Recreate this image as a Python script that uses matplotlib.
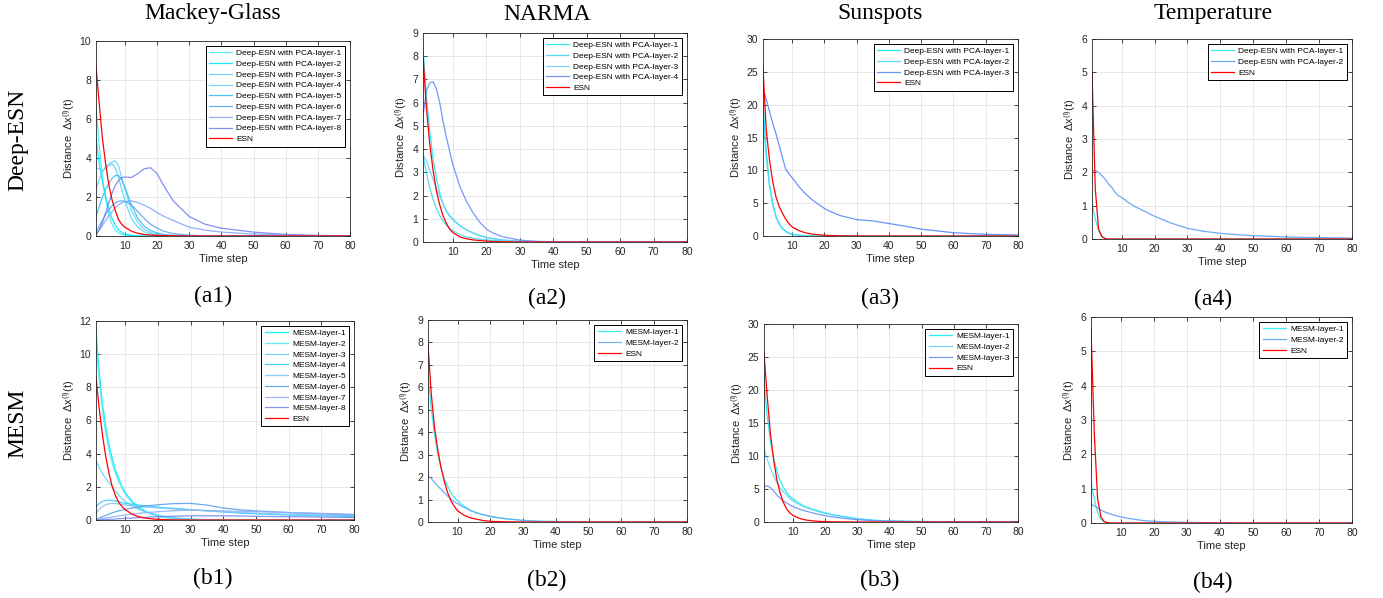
import matplotlib
matplotlib.use('Agg')
import matplotlib.pyplot as plt

plt.rcParams['font.family'] = ['Liberation Sans', 'DejaVu Sans']
plt.rcParams['mathtext.fontset'] = 'custom'
plt.rcParams['mathtext.rm'] = 'Liberation Sans'
plt.rcParams['mathtext.default'] = 'regular'

t = [1, 2, 3, 4, 5, 6, 7, 8, 9, 10, 12, 14, 16, 18, 20, 22, 25, 30, 35, 40, 45, 50, 60, 70, 80]

# ---- Deep-ESN with PCA ----
mg_deep = [
    [6.7, 4.6, 3.0, 1.9, 1.1, 0.6, 0.3, 0.15, 0.08, 0.04, 0.01, 0, 0, 0, 0, 0, 0, 0, 0, 0, 0, 0, 0, 0, 0],
    [5.0, 3.7, 2.8, 2.0, 1.4, 0.9, 0.55, 0.32, 0.18, 0.1, 0.03, 0.01, 0, 0, 0, 0, 0, 0, 0, 0, 0, 0, 0, 0, 0],
    [3.5, 3.45, 3.35, 3.45, 3.6, 3.7, 3.5, 3.0, 2.4, 1.8, 0.9, 0.45, 0.22, 0.1, 0.05, 0.02, 0.01, 0, 0, 0, 0, 0, 0, 0, 0],
    [2.4, 2.9, 3.3, 3.55, 3.7, 3.8, 3.85, 3.6, 3.0, 2.4, 1.3, 0.7, 0.35, 0.18, 0.09, 0.04, 0.01, 0, 0, 0, 0, 0, 0, 0, 0],
    [1.0, 1.5, 2.0, 2.4, 2.7, 2.95, 3.1, 3.1, 2.9, 2.5, 1.6, 0.9, 0.5, 0.28, 0.15, 0.08, 0.03, 0.01, 0, 0, 0, 0, 0, 0, 0],
    [0.2, 0.5, 0.8, 1.1, 1.35, 1.55, 1.7, 1.78, 1.8, 1.78, 1.6, 1.25, 0.9, 0.6, 0.4, 0.25, 0.12, 0.04, 0.01, 0, 0, 0, 0, 0, 0],
    [0.1, 0.3, 0.55, 0.8, 1.05, 1.25, 1.45, 1.6, 1.7, 1.77, 1.8, 1.72, 1.58, 1.42, 1.2, 1.02, 0.8, 0.45, 0.3, 0.2, 0.15, 0.1, 0.05, 0.02, 0.01],
    [0.05, 0.3, 0.7, 1.2, 1.7, 2.2, 2.6, 2.85, 3.0, 3.02, 3.0, 3.2, 3.45, 3.5, 3.2, 2.6, 1.8, 1.0, 0.6, 0.4, 0.3, 0.2, 0.08, 0.03, 0.01],
]
mg_deep_esn = [8.7, 6.8, 5.0, 3.7, 2.6, 1.85, 1.3, 0.85, 0.6, 0.45, 0.25, 0.14, 0.08, 0.05, 0.03, 0.02, 0.01, 0, 0, 0, 0, 0, 0, 0, 0]

narma_deep = [
    [8.4, 6.3, 4.8, 3.6, 2.75, 2.1, 1.65, 1.3, 1.1, 0.95, 0.7, 0.52, 0.38, 0.27, 0.2, 0.14, 0.08, 0.03, 0.01, 0, 0, 0, 0, 0, 0],
    [3.75, 3.0, 2.35, 1.85, 1.45, 1.15, 0.9, 0.72, 0.58, 0.48, 0.32, 0.22, 0.16, 0.12, 0.09, 0.07, 0.05, 0.02, 0.01, 0, 0, 0, 0, 0, 0],
    [3.75, 3.5, 3.1, 2.7, 2.3, 1.95, 1.65, 1.35, 1.15, 0.98, 0.72, 0.53, 0.39, 0.28, 0.2, 0.15, 0.09, 0.03, 0.01, 0, 0, 0, 0, 0, 0],
    [5.4, 6.5, 6.85, 6.9, 6.6, 6.0, 5.2, 4.5, 3.9, 3.3, 2.4, 1.75, 1.25, 0.85, 0.55, 0.38, 0.22, 0.08, 0.03, 0.01, 0, 0, 0, 0, 0],
]
narma_deep_esn = [8.0, 5.8, 4.25, 3.1, 2.2, 1.6, 1.13, 0.8, 0.55, 0.4, 0.22, 0.14, 0.09, 0.06, 0.04, 0.02, 0.01, 0, 0, 0, 0, 0, 0, 0, 0]

sun_deep = [
    [20.5, 13.0, 8.0, 5.0, 3.0, 1.9, 1.2, 0.75, 0.45, 0.3, 0.12, 0.05, 0.02, 0.01, 0, 0, 0, 0, 0, 0, 0, 0, 0, 0, 0],
    [18.0, 12.0, 7.6, 4.8, 2.9, 1.8, 1.1, 0.7, 0.42, 0.27, 0.1, 0.04, 0.02, 0.01, 0, 0, 0, 0, 0, 0, 0, 0, 0, 0, 0],
    [22.5, 20.8, 19.0, 17.2, 15.6, 13.8, 12.0, 10.2, 9.5, 8.9, 7.6, 6.5, 5.6, 4.9, 4.2, 3.7, 3.1, 2.5, 2.3, 1.9, 1.5, 1.05, 0.5, 0.25, 0.15],
]
sun_deep_esn = [25.5, 16.2, 11.6, 8.3, 6.0, 4.5, 3.5, 2.6, 1.9, 1.4, 0.85, 0.5, 0.3, 0.2, 0.12, 0.07, 0.03, 0.01, 0, 0, 0, 0, 0, 0, 0]

temp_deep = [
    [1.05, 0.6, 0.25, 0.08, 0.02, 0, 0, 0, 0, 0, 0, 0, 0, 0, 0, 0, 0, 0, 0, 0, 0, 0, 0, 0, 0],
    [2.05, 2.05, 2.0, 1.9, 1.8, 1.65, 1.55, 1.4, 1.3, 1.25, 1.1, 0.97, 0.88, 0.78, 0.68, 0.6, 0.48, 0.32, 0.23, 0.17, 0.13, 0.1, 0.06, 0.04, 0.03],
]
temp_deep_esn = [5.0, 1.5, 0.3, 0.07, 0.01, 0, 0, 0, 0, 0, 0, 0, 0, 0, 0, 0, 0, 0, 0, 0, 0, 0, 0, 0, 0]

# ---- MESM ----
mg_mesm = [
    [11.4, 8.9, 7.0, 5.6, 4.5, 3.7, 3.0, 2.5, 2.0, 1.65, 1.15, 0.8, 0.55, 0.38, 0.25, 0.17, 0.1, 0.04, 0.02, 0.01, 0, 0, 0, 0, 0],
    [10.8, 8.4, 6.6, 5.2, 4.2, 3.4, 2.8, 2.3, 1.9, 1.55, 1.05, 0.72, 0.5, 0.34, 0.22, 0.15, 0.08, 0.03, 0.01, 0, 0, 0, 0, 0, 0],
    [3.6, 3.15, 2.8, 2.5, 2.25, 2.0, 1.75, 1.5, 1.28, 1.1, 0.85, 0.65, 0.5, 0.4, 0.3, 0.22, 0.14, 0.05, 0.02, 0.01, 0, 0, 0, 0, 0],
    [0.8, 1.0, 1.12, 1.18, 1.2, 1.18, 1.15, 1.1, 1.05, 1.0, 0.95, 0.9, 0.86, 0.82, 0.78, 0.74, 0.7, 0.62, 0.55, 0.48, 0.42, 0.37, 0.3, 0.25, 0.2],
    [0.4, 0.65, 0.82, 0.92, 0.98, 1.0, 0.99, 0.97, 0.94, 0.9, 0.86, 0.82, 0.79, 0.76, 0.73, 0.7, 0.66, 0.6, 0.55, 0.5, 0.45, 0.41, 0.35, 0.3, 0.27],
    [0.05, 0.12, 0.2, 0.28, 0.36, 0.43, 0.5, 0.55, 0.6, 0.64, 0.72, 0.78, 0.84, 0.88, 0.92, 0.95, 0.99, 1.0, 0.9, 0.72, 0.62, 0.55, 0.45, 0.37, 0.3],
    [0.02, 0.05, 0.08, 0.12, 0.15, 0.19, 0.22, 0.25, 0.28, 0.3, 0.36, 0.4, 0.44, 0.47, 0.5, 0.53, 0.56, 0.6, 0.58, 0.55, 0.52, 0.5, 0.45, 0.4, 0.35],
    [0.0, 0.01, 0.02, 0.03, 0.04, 0.05, 0.06, 0.08, 0.09, 0.1, 0.12, 0.14, 0.16, 0.18, 0.2, 0.21, 0.23, 0.25, 0.25, 0.25, 0.24, 0.22, 0.2, 0.18, 0.15],
]
mg_mesm_esn = [8.6, 6.7, 5.1, 3.8, 2.8, 2.0, 1.45, 1.05, 0.8, 0.62, 0.36, 0.2, 0.12, 0.07, 0.04, 0.02, 0.01, 0, 0, 0, 0, 0, 0, 0, 0]

narma_mesm = [
    [6.6, 5.0, 3.9, 3.0, 2.4, 1.9, 1.6, 1.3, 1.1, 0.95, 0.7, 0.52, 0.4, 0.32, 0.25, 0.2, 0.14, 0.07, 0.03, 0.02, 0.01, 0, 0, 0, 0],
    [2.05, 1.95, 1.75, 1.6, 1.45, 1.3, 1.15, 1.02, 0.9, 0.82, 0.65, 0.5, 0.4, 0.32, 0.25, 0.2, 0.14, 0.07, 0.03, 0.02, 0.01, 0, 0, 0, 0],
]
narma_mesm_esn = [7.9, 5.7, 4.2, 3.2, 2.4, 1.8, 1.3, 0.95, 0.7, 0.5, 0.3, 0.18, 0.12, 0.06, 0.03, 0.02, 0.01, 0, 0, 0, 0, 0, 0, 0, 0]

sun_mesm = [
    [21.5, 16.0, 12.2, 9.7, 7.8, 6.3, 5.3, 4.5, 3.9, 3.5, 2.8, 2.3, 1.95, 1.65, 1.4, 1.15, 0.9, 0.5, 0.28, 0.16, 0.1, 0.07, 0.04, 0.02, 0.01],
    [11.0, 9.5, 8.2, 7.0, 6.0, 5.2, 4.6, 4.1, 3.6, 3.2, 2.6, 2.2, 1.85, 1.55, 1.3, 1.1, 0.85, 0.45, 0.25, 0.15, 0.1, 0.07, 0.04, 0.02, 0.01],
    [5.3, 5.5, 5.2, 4.7, 4.1, 3.6, 3.2, 2.9, 2.6, 2.35, 1.95, 1.65, 1.4, 1.15, 0.95, 0.8, 0.6, 0.35, 0.2, 0.12, 0.08, 0.05, 0.03, 0.02, 0.01],
]
sun_mesm_esn = [25.6, 19.0, 13.4, 9.4, 6.4, 4.4, 3.0, 2.0, 1.4, 1.0, 0.55, 0.3, 0.18, 0.1, 0.06, 0.03, 0.01, 0, 0, 0, 0, 0, 0, 0, 0]

temp_mesm = [
    [1.15, 0.7, 0.3, 0.1, 0.03, 0.01, 0, 0, 0, 0, 0, 0, 0, 0, 0, 0, 0, 0, 0, 0, 0, 0, 0, 0, 0],
    [0.55, 0.5, 0.44, 0.38, 0.33, 0.29, 0.26, 0.23, 0.2, 0.18, 0.14, 0.11, 0.08, 0.06, 0.05, 0.04, 0.03, 0.02, 0.01, 0.01, 0, 0, 0, 0, 0],
]
temp_mesm_esn = [5.65, 2.6, 0.7, 0.18, 0.04, 0.01, 0, 0, 0, 0, 0, 0, 0, 0, 0, 0, 0, 0, 0, 0, 0, 0, 0, 0, 0]

titles = ['Mackey-Glass', 'NARMA', 'Sunspots', 'Temperature']
row_names = ['Deep-ESN', 'MESM']

W, H = 1383, 598
fig = plt.figure(figsize=(W / 100, H / 100), dpi=100)


def box(l, r, top, bot):
    return [l / W, 1 - bot / H, (r - l) / W, (bot - top) / H]


panels = [
    # (rect, layers, esn, prefix, colors, ymax, ystep, caption)
    (box(96, 350, 41, 236), mg_deep, mg_deep_esn, 'Deep-ESN with PCA-layer-',
     ['#4de8f5', '#00e6ff', '#5cd6f5', '#6cd4fa', '#33c0f5', '#5aa5f2', '#85a8f5', '#7585f2'], 10, 2, '(a1)'),
    (box(423, 687, 33, 242), narma_deep, narma_deep_esn, 'Deep-ESN with PCA-layer-',
     ['#20e8f8', '#40d8f5', '#70d0f8', '#6a8cf5'], 9, 1, '(a2)'),
    (box(763, 1018, 39, 236), sun_deep, sun_deep_esn, 'Deep-ESN with PCA-layer-',
     ['#00e8f8', '#50d8f8', '#5a88f5'], 30, 5, '(a3)'),
    (box(1092, 1352, 39, 239), temp_deep, temp_deep_esn, 'Deep-ESN with PCA-layer-',
     ['#30e8f0', '#5aa0f8'], 6, 1, '(a4)'),
    (box(96, 354, 321, 520), mg_mesm, mg_mesm_esn, 'MESM-layer-',
     ['#00f0ff', '#55e8f5', '#60d5f8', '#30d0f8', '#80c8f8', '#5aa0f0', '#90b0f8', '#7888f0'], 12, 2, '(b1)'),
    (box(428, 687, 320, 522), narma_mesm, narma_mesm_esn, 'MESM-layer-',
     ['#30e8f0', '#6aa8f5'], 9, 1, '(b2)'),
    (box(764, 1018, 324, 522), sun_mesm, sun_mesm_esn, 'MESM-layer-',
     ['#10eaf8', '#60d8f8', '#6a90f5'], 30, 5, '(b3)'),
    (box(1091, 1352, 317, 523), temp_mesm, temp_mesm_esn, 'MESM-layer-',
     ['#30e8f0', '#5aa0f8'], 6, 1, '(b4)'),
]

cap_y = [296, 298, 298, 299, 578, 580, 580, 582]
col_x = [213, 547, 880, 1213]

for i, (rect, layers, esn, prefix, colors, ymax, ystep, cap) in enumerate(panels):
    ax = fig.add_axes(rect)
    for k, vals in enumerate(layers):
        ax.plot(t, vals, color=colors[k], lw=0.9, alpha=0.9, label=prefix + str(k + 1))
    ax.plot(t, esn, color='#ff0000', lw=0.9, label='ESN')
    ax.set_xlim(1, 80)
    ax.set_ylim(0, ymax)
    ax.set_xticks(range(10, 81, 10))
    ax.set_yticks(range(0, ymax + 1, ystep))
    ax.grid(True, color='#e3e3e3', lw=0.6)
    ax.set_axisbelow(True)
    ax.tick_params(direction='in', length=3, top=True, right=True, labelsize=7.5,
                   colors='#262626', width=0.6)
    for s in ax.spines.values():
        s.set_color('#262626')
        s.set_linewidth(0.6)
    ax.set_xlabel('Time step', fontsize=8, color='#262626', labelpad=2)
    ax.set_ylabel('Distance  $\\Delta$x$^{(l)}$(t)', fontsize=8, color='#262626', labelpad=2)
    leg = ax.legend(loc='upper right', fontsize=6, fancybox=False, framealpha=1,
                    edgecolor='black', borderpad=0.4, labelspacing=0.35,
                    handlelength=2.8, handletextpad=0.5, borderaxespad=0.6)
    leg.get_frame().set_linewidth(0.7)
    fig.text(col_x[i % 4] / W, 1 - cap_y[i] / H, cap, ha='center', va='center',
             fontsize=17, family='Liberation Serif')

for j, name in enumerate(titles):
    fig.text(col_x[j] / W, 1 - 14 / H, name, ha='center', va='center',
             fontsize=17, family='Liberation Serif')

fig.text(18 / W, 1 - 140 / H, row_names[0], ha='center', va='center', rotation=90,
         fontsize=17, family='Liberation Serif')
fig.text(18 / W, 1 - 423 / H, row_names[1], ha='center', va='center', rotation=90,
         fontsize=17, family='Liberation Serif')

fig.savefig('out.png', dpi=100)
